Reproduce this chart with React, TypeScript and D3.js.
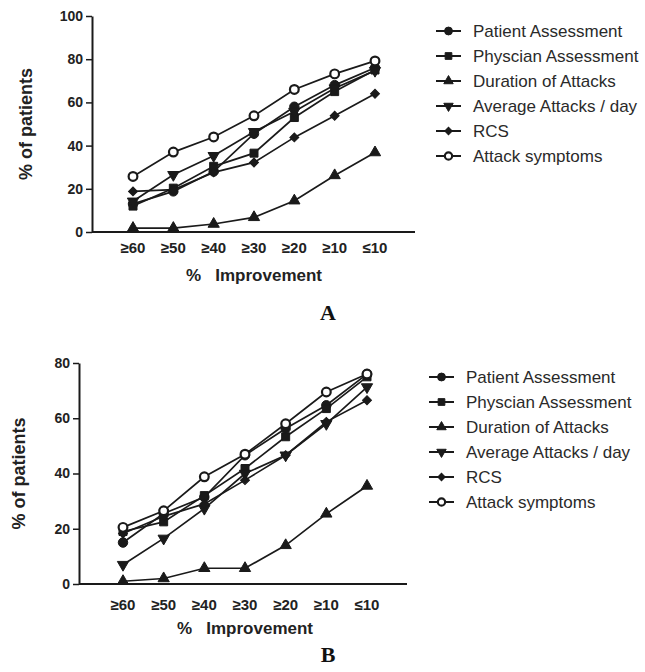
import * as d3 from 'd3'
import { useEffect, useRef } from 'react'

const categories = ['≥60', '≥50', '≥40', '≥30', '≥20', '≥10', '≤10']
const seriesNames = ['Patient Assessment', 'Physcian Assessment', 'Duration of Attacks', 'Average Attacks / day', 'RCS', 'Attack symptoms']

// panel A
const patientA = [13, 18.8, 28, 45.5, 58, 68, 76]
const physicianA = [12, 20.3, 30.4, 36.5, 53, 65, 75]
const durationA = [1.8, 1.8, 3.7, 6.8, 14.5, 26.2, 36.8]
const averageA = [14.2, 26.5, 35.3, 46.4, 55.8, 66.6, 74.7]
const rcsA = [18.8, 19.6, 27.6, 32.2, 43.8, 53.8, 64]
const symptomsA = [25.7, 37, 44, 53.8, 66, 73.2, 79.2]
const ticksA = [0, 20, 40, 60, 80, 100]

// panel B
const patientB = [15, 25.5, 31.5, 46.6, 56.3, 64.7, 76]
const physicianB = [19, 22.5, 32, 41.8, 53.3, 63.5, 75]
const durationB = [1, 2, 5.7, 5.7, 14, 25.4, 35.5]
const averageB = [7, 16.5, 27.3, 40, 46.6, 58, 71.3]
const rcsB = [18.3, 24.5, 29, 37.6, 46.6, 58.7, 66.5]
const symptomsB = [20.5, 26.5, 38.8, 47, 58, 69.5, 76]
const ticksB = [0, 20, 40, 60, 80]

const markers = [
  { type: d3.symbolCircle, size: 70, rot: 0, open: false },
  { type: d3.symbolSquare, size: 64, rot: 0, open: false },
  { type: d3.symbolTriangle, size: 55, rot: 0, open: false },
  { type: d3.symbolTriangle, size: 55, rot: 180, open: false },
  { type: d3.symbolSquare, size: 40, rot: 45, open: false },
  { type: d3.symbolCircle, size: 60, rot: 0, open: true },
]

const ink = '#1a1a1a'
const font = 'Liberation Sans, Arial, sans-serif'

const panels = [
  {
    label: 'A', series: [patientA, physicianA, durationA, averageA, rcsA, symptomsA], ticks: ticksA, max: 100,
    axisX: [92, 415], pointX: [133, 375], yRange: [232, 16],
    tickY: 248, titleY: 275, ylabX: 26, letterY: 320,
    legendX: 436, legendY: 31,
  },
  {
    label: 'B', series: [patientB, physicianB, durationB, averageB, rcsB, symptomsB], ticks: ticksB, max: 80,
    axisX: [79, 407], pointX: [123, 367], yRange: [584, 363],
    tickY: 605, titleY: 628, ylabX: 19, letterY: 662,
    legendX: 429, legendY: 377,
  },
]

const chart = (node: SVGSVGElement) => {
  const svg = d3.select(node)
  svg.selectAll('*').remove()

  panels.forEach(p => {
    const x = d3.scalePoint().domain(categories).range(p.pointX as [number, number])
    const y = d3.scaleLinear().domain([0, p.max]).range(p.yRange as [number, number])
    const g = svg.append('g')

    // y axis
    const yAxis = g.append('g')
      .attr('transform', `translate(${p.axisX[0]},0)`)
      .call(d3.axisLeft(y).tickValues(p.ticks).tickSize(6).tickPadding(3).tickSizeOuter(0))
    yAxis.select('.domain').attr('stroke', ink).attr('stroke-width', 2)
    yAxis.selectAll('line').attr('stroke', ink).attr('stroke-width', 1.5)
    yAxis.selectAll('text')
      .attr('font-family', font).attr('font-size', 14).attr('font-weight', 'bold').attr('fill', '#222')

    // x axis line
    g.append('line')
      .attr('x1', p.axisX[0]).attr('x2', p.axisX[1])
      .attr('y1', y(0)).attr('y2', y(0))
      .attr('stroke', ink).attr('stroke-width', 2)

    g.append('g')
      .selectAll('text')
      .data(categories)
      .join('text')
        .attr('x', d => x(d)!)
        .attr('y', p.tickY)
        .attr('dy', '0.35em')
        .attr('text-anchor', 'middle')
        .attr('font-family', font).attr('font-size', 15).attr('font-weight', 'bold').attr('fill', '#222')
        .text(d => d)

    g.append('text')
      .attr('x', (p.pointX[0] + p.pointX[1]) / 2)
      .attr('y', p.titleY)
      .attr('dy', '0.35em')
      .attr('text-anchor', 'middle')
      .attr('font-family', font).attr('font-size', 17).attr('font-weight', 'bold').attr('fill', '#222')
      .attr('xml:space', 'preserve')
      .text('%   Improvement')

    g.append('text')
      .attr('transform', `translate(${p.ylabX},${(p.yRange[0] + p.yRange[1]) / 2}) rotate(-90)`)
      .attr('dy', '0.35em')
      .attr('text-anchor', 'middle')
      .attr('font-family', font).attr('font-size', 18).attr('font-weight', 'bold').attr('fill', '#222')
      .text('% of patients')

    g.append('text')
      .attr('x', 328).attr('y', p.letterY)
      .attr('text-anchor', 'middle')
      .attr('font-family', 'Liberation Serif, serif').attr('font-size', 22).attr('font-weight', 'bold').attr('fill', '#111')
      .text(p.label)

    // series
    const line = d3.line<number>().x((_, i) => x(categories[i])!).y(d => y(d))
    p.series.forEach((vals, si) => {
      const m = markers[si]
      g.append('path')
        .attr('d', line(vals))
        .attr('fill', 'none').attr('stroke', ink).attr('stroke-width', 1.7)
      g.append('g')
        .selectAll('path')
        .data(vals)
        .join('path')
          .attr('transform', (d, i) => `translate(${x(categories[i])},${y(d)}) rotate(${m.rot})`)
          .attr('d', d3.symbol().type(m.type).size(m.size)())
          .attr('fill', m.open ? '#fff' : ink)
          .attr('stroke', ink)
          .attr('stroke-width', m.open ? 2.2 : 1)
    })

    // legend
    const leg = g.append('g')
      .attr('transform', `translate(${p.legendX},${p.legendY})`)
    seriesNames.forEach((name, i) => {
      const m = markers[i]
      const row = leg.append('g').attr('transform', `translate(0,${i * 25})`)
      row.append('line')
        .attr('x1', 0).attr('x2', 25)
        .attr('stroke', ink).attr('stroke-width', 2)
      row.append('path')
        .attr('transform', `translate(12.5,0) rotate(${m.rot})`)
        .attr('d', d3.symbol().type(m.type).size(m.size * 0.7)())
        .attr('fill', m.open ? '#fff' : ink)
        .attr('stroke', ink)
        .attr('stroke-width', m.open ? 2.2 : 1)
      row.append('text')
        .attr('x', 37)
        .attr('dy', '0.35em')
        .attr('font-family', font).attr('font-size', 17).attr('fill', '#2a2a2a')
        .text(name)
    })
  })
}

export default function App() {
  const ref = useRef<SVGSVGElement>(null)
  useEffect(() => {
    if (ref.current) chart(ref.current)
  }, [])
  return (
    <svg ref={ref} width={645} height={672}
      style={{ position: 'absolute', left: 0, top: 0, background: '#fff' }} />
  )
}
